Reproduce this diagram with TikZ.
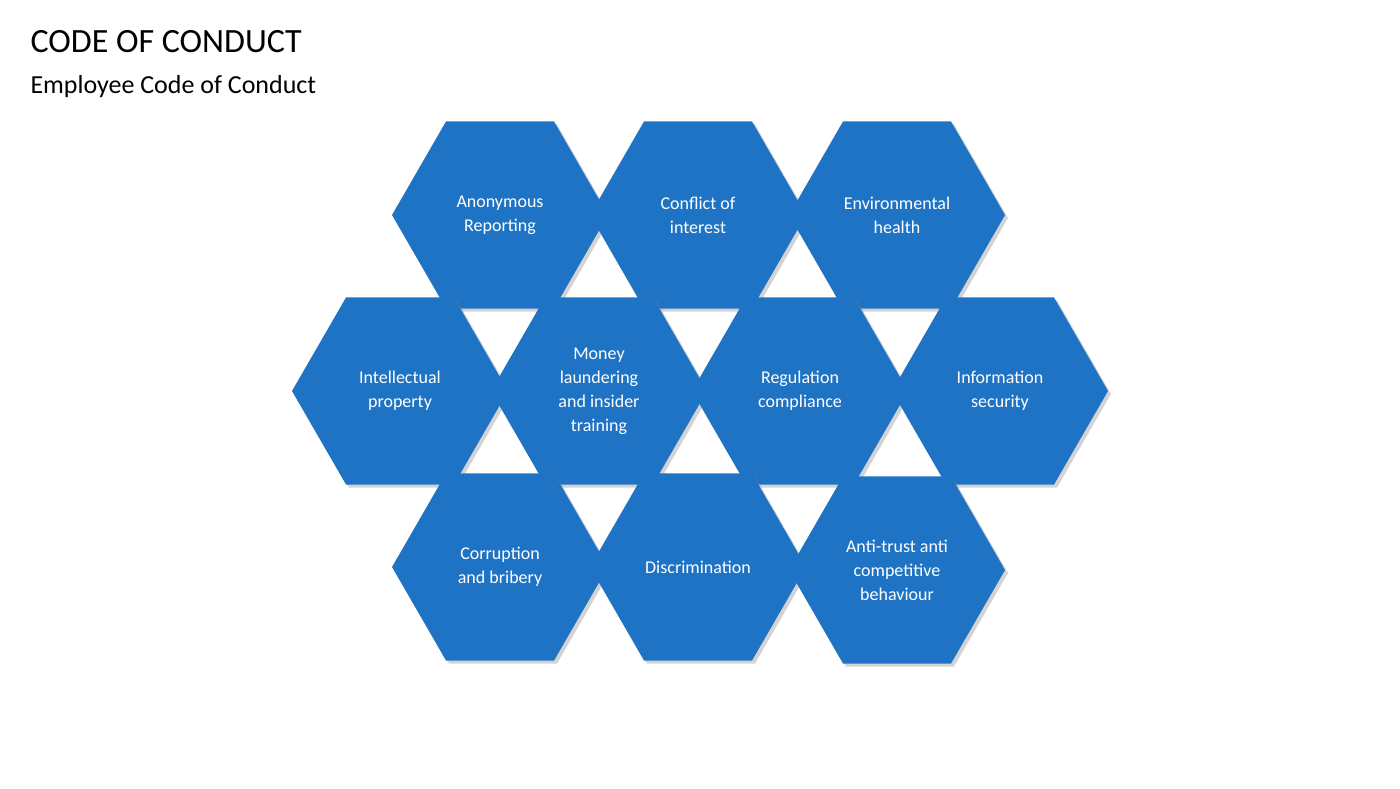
\documentclass[tikz,border=0pt]{standalone}
\usepackage{fontspec}
\setmainfont{Carlito}
\usetikzlibrary{shapes.geometric,shadows}
\definecolor{hexblue}{HTML}{1F73C4}
\begin{document}
\begin{tikzpicture}[x=1pt,y=-1pt,
  hexa/.style={regular polygon,regular polygon sides=6,minimum size=216pt,inner sep=0pt,
    fill=hexblue,draw=none,text=white,font=\fontsize{18}{24}\selectfont,align=center,
    drop shadow={shadow xshift=3pt,shadow yshift=-3pt,opacity=0.35,fill=gray}}]
\useasboundingbox (0,0) rectangle (1400,788);
\node[anchor=west,font=\fontsize{34}{40}\selectfont] (t) at (27,42) {CODE OF CONDUCT};
\node[anchor=west,font=\fontsize{26}{30}\selectfont] (s) at (27,87) {Employee Code of Conduct};
\node[hexa] (h1) at (500,215) {Anonymous\\Reporting};
\node[hexa] (h2) at (698,215) {Conflict of\\interest};
\node[hexa] (h3) at (897,215) {Environmental\\health};
\node[hexa] (h4) at (400,391) {Intellectual\\property};
\node[hexa] (h5) at (599,391) {Money\\laundering\\and insider\\training};
\node[hexa] (h6) at (800,391) {Regulation\\compliance};
\node[hexa] (h7) at (1000,391) {Information\\security};
\node[hexa] (h8) at (500,567) {Corruption\\and bribery};
\node[hexa] (h9) at (698,567) {Discrimination};
\node[hexa] (h10) at (897,570) {Anti-trust anti\\competitive\\behaviour};
\end{tikzpicture}
\end{document}
